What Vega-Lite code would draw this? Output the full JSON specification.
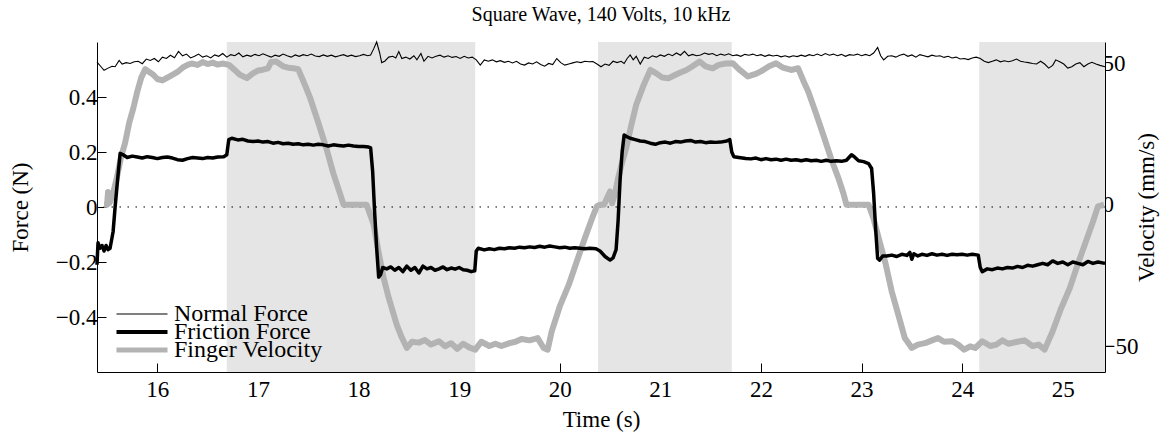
{
  "$schema": "https://vega.github.io/schema/vega-lite/v6.json",
  "width": 1008,
  "height": 330,
  "autosize": {"type": "none"},
  "padding": {"left": 97, "top": 42, "right": 59, "bottom": 67},
  "background": "white",
  "title": {"text": "Square Wave, 140 Volts, 10 kHz", "font": "Liberation Serif", "fontSize": 20, "fontWeight": "normal", "color": "black", "offset": 15, "anchor": "middle"},
  "config": {
    "view": {"stroke": null},
    "font": "Liberation Serif",
    "axis": {
      "labelFont": "Liberation Serif", "titleFont": "Liberation Serif",
      "labelFontSize": 23, "titleFontSize": 23, "titleFontWeight": "normal",
      "labelColor": "black", "titleColor": "black",
      "domainColor": "black", "tickColor": "black", "domainWidth": 1, "tickWidth": 1,
      "grid": false, "tickSize": -9, "labelPadding": 9
    },
    "legend": {"rowPadding": -6, "gridAlign": "none"}
  },
  "datasets": {
    "bands": [
      {"t": 16.69, "t2": 19.16},
      {"t": 20.38, "t2": 21.71},
      {"t": 24.17, "t2": 25.42}
    ],
    "friction": [
      {"t":15.40,"f":-0.21},{"t":15.41,"f":-0.13},{"t":15.43,"f":-0.15},{"t":15.45,"f":-0.14},{"t":15.47,"f":-0.16},{"t":15.49,"f":-0.14},{"t":15.51,"f":-0.155},{"t":15.53,"f":-0.15},{"t":15.56,"f":-0.09},{"t":15.58,"f":0.0},{"t":15.61,"f":0.12},{"t":15.63,"f":0.195},
      {"t":15.66,"f":0.19},{"t":15.70,"f":0.18},{"t":15.75,"f":0.185},{"t":15.80,"f":0.182},{"t":15.85,"f":0.178},{"t":15.90,"f":0.183},{"t":15.95,"f":0.18},{"t":16.00,"f":0.176},{"t":16.05,"f":0.18},{"t":16.10,"f":0.182},{"t":16.15,"f":0.178},{"t":16.20,"f":0.172},{"t":16.25,"f":0.17},{"t":16.30,"f":0.176},{"t":16.35,"f":0.18},{"t":16.40,"f":0.178},{"t":16.45,"f":0.176},{"t":16.50,"f":0.18},{"t":16.55,"f":0.178},{"t":16.60,"f":0.182},{"t":16.66,"f":0.183},{"t":16.69,"f":0.19},
      {"t":16.71,"f":0.245},{"t":16.74,"f":0.25},{"t":16.80,"f":0.244},{"t":16.85,"f":0.246},{"t":16.90,"f":0.24},{"t":16.95,"f":0.238},{"t":17.00,"f":0.24},{"t":17.05,"f":0.236},{"t":17.10,"f":0.238},{"t":17.15,"f":0.232},{"t":17.20,"f":0.235},{"t":17.25,"f":0.23},{"t":17.30,"f":0.232},{"t":17.35,"f":0.228},{"t":17.40,"f":0.23},{"t":17.45,"f":0.226},{"t":17.50,"f":0.228},{"t":17.55,"f":0.225},{"t":17.60,"f":0.228},{"t":17.65,"f":0.226},{"t":17.70,"f":0.222},{"t":17.75,"f":0.226},{"t":17.80,"f":0.224},{"t":17.85,"f":0.222},{"t":17.90,"f":0.225},{"t":17.95,"f":0.222},{"t":18.00,"f":0.22},{"t":18.05,"f":0.22},{"t":18.10,"f":0.218},{"t":18.12,"f":0.215},
      {"t":18.14,"f":0.13},{"t":18.16,"f":-0.02},{"t":18.18,"f":-0.15},{"t":18.20,"f":-0.255},{"t":18.22,"f":-0.245},{"t":18.24,"f":-0.22},{"t":18.28,"f":-0.225},{"t":18.32,"f":-0.218},{"t":18.36,"f":-0.23},{"t":18.40,"f":-0.22},{"t":18.44,"f":-0.235},{"t":18.48,"f":-0.215},{"t":18.52,"f":-0.23},{"t":18.56,"f":-0.22},{"t":18.60,"f":-0.24},{"t":18.64,"f":-0.215},{"t":18.68,"f":-0.225},{"t":18.72,"f":-0.22},{"t":18.76,"f":-0.23},{"t":18.80,"f":-0.225},{"t":18.84,"f":-0.218},{"t":18.88,"f":-0.228},{"t":18.92,"f":-0.222},{"t":18.96,"f":-0.226},{"t":19.00,"f":-0.22},{"t":19.04,"f":-0.228},{"t":19.08,"f":-0.23},{"t":19.12,"f":-0.235},{"t":19.155,"f":-0.232},
      {"t":19.17,"f":-0.16},{"t":19.19,"f":-0.15},{"t":19.25,"f":-0.156},{"t":19.30,"f":-0.152},{"t":19.35,"f":-0.155},{"t":19.40,"f":-0.15},{"t":19.45,"f":-0.152},{"t":19.50,"f":-0.148},{"t":19.55,"f":-0.15},{"t":19.60,"f":-0.146},{"t":19.65,"f":-0.148},{"t":19.70,"f":-0.145},{"t":19.75,"f":-0.147},{"t":19.80,"f":-0.143},{"t":19.85,"f":-0.146},{"t":19.90,"f":-0.142},{"t":19.95,"f":-0.145},{"t":20.00,"f":-0.148},{"t":20.05,"f":-0.146},{"t":20.10,"f":-0.15},{"t":20.15,"f":-0.148},{"t":20.20,"f":-0.15},{"t":20.25,"f":-0.152},{"t":20.30,"f":-0.15},{"t":20.36,"f":-0.152},{"t":20.40,"f":-0.16},{"t":20.45,"f":-0.18},{"t":20.50,"f":-0.193},{"t":20.53,"f":-0.185},{"t":20.56,"f":-0.155},
      {"t":20.58,"f":-0.05},{"t":20.60,"f":0.1},{"t":20.62,"f":0.2},{"t":20.64,"f":0.262},{"t":20.67,"f":0.255},{"t":20.70,"f":0.25},{"t":20.75,"f":0.245},{"t":20.80,"f":0.24},{"t":20.85,"f":0.238},{"t":20.90,"f":0.232},{"t":20.95,"f":0.228},{"t":21.00,"f":0.234},{"t":21.05,"f":0.236},{"t":21.10,"f":0.232},{"t":21.15,"f":0.238},{"t":21.20,"f":0.236},{"t":21.25,"f":0.24},{"t":21.30,"f":0.242},{"t":21.35,"f":0.236},{"t":21.40,"f":0.238},{"t":21.45,"f":0.234},{"t":21.50,"f":0.236},{"t":21.55,"f":0.235},{"t":21.60,"f":0.236},{"t":21.66,"f":0.24},{"t":21.69,"f":0.245},
      {"t":21.71,"f":0.2},{"t":21.73,"f":0.183},{"t":21.78,"f":0.18},{"t":21.85,"f":0.176},{"t":21.90,"f":0.175},{"t":21.95,"f":0.178},{"t":22.00,"f":0.172},{"t":22.05,"f":0.176},{"t":22.10,"f":0.172},{"t":22.15,"f":0.174},{"t":22.20,"f":0.17},{"t":22.25,"f":0.174},{"t":22.30,"f":0.17},{"t":22.35,"f":0.172},{"t":22.40,"f":0.168},{"t":22.45,"f":0.172},{"t":22.50,"f":0.168},{"t":22.55,"f":0.17},{"t":22.60,"f":0.166},{"t":22.65,"f":0.17},{"t":22.70,"f":0.166},{"t":22.75,"f":0.168},{"t":22.80,"f":0.166},{"t":22.85,"f":0.17},{"t":22.90,"f":0.19},{"t":22.93,"f":0.182},{"t":22.97,"f":0.168},{"t":23.02,"f":0.165},{"t":23.07,"f":0.158},{"t":23.10,"f":0.14},
      {"t":23.12,"f":0.05},{"t":23.14,"f":-0.08},{"t":23.16,"f":-0.187},{"t":23.18,"f":-0.193},{"t":23.21,"f":-0.178},{"t":23.25,"f":-0.178},{"t":23.30,"f":-0.175},{"t":23.35,"f":-0.18},{"t":23.40,"f":-0.172},{"t":23.45,"f":-0.176},{"t":23.48,"f":-0.165},{"t":23.50,"f":-0.19},{"t":23.52,"f":-0.17},{"t":23.56,"f":-0.178},{"t":23.60,"f":-0.172},{"t":23.65,"f":-0.176},{"t":23.70,"f":-0.17},{"t":23.75,"f":-0.175},{"t":23.80,"f":-0.172},{"t":23.85,"f":-0.176},{"t":23.90,"f":-0.172},{"t":23.95,"f":-0.174},{"t":24.00,"f":-0.172},{"t":24.05,"f":-0.175},{"t":24.10,"f":-0.172},{"t":24.16,"f":-0.175},
      {"t":24.18,"f":-0.22},{"t":24.20,"f":-0.235},{"t":24.25,"f":-0.225},{"t":24.30,"f":-0.228},{"t":24.35,"f":-0.222},{"t":24.40,"f":-0.225},{"t":24.45,"f":-0.22},{"t":24.50,"f":-0.222},{"t":24.55,"f":-0.216},{"t":24.60,"f":-0.22},{"t":24.65,"f":-0.212},{"t":24.70,"f":-0.215},{"t":24.75,"f":-0.21},{"t":24.80,"f":-0.205},{"t":24.85,"f":-0.21},{"t":24.90,"f":-0.196},{"t":24.95,"f":-0.205},{"t":25.00,"f":-0.2},{"t":25.05,"f":-0.21},{"t":25.10,"f":-0.2},{"t":25.15,"f":-0.205},{"t":25.20,"f":-0.21},{"t":25.25,"f":-0.198},{"t":25.30,"f":-0.205},{"t":25.35,"f":-0.2},{"t":25.42,"f":-0.205}
    ],
    "velocity": [
      {"t":15.47,"v":0},{"t":15.50,"v":0},{"t":15.51,"v":4.5},{"t":15.525,"v":0.6},{"t":15.56,"v":4},{"t":15.60,"v":10},{"t":15.64,"v":17},{"t":15.68,"v":22},{"t":15.72,"v":29},{"t":15.76,"v":34},{"t":15.80,"v":40},{"t":15.84,"v":45},{"t":15.88,"v":48},{"t":15.92,"v":47},{"t":15.96,"v":46},{"t":16.00,"v":44.5},{"t":16.05,"v":44},{"t":16.10,"v":45},{"t":16.15,"v":46},{"t":16.20,"v":47},{"t":16.25,"v":48.5},{"t":16.30,"v":49.5},{"t":16.34,"v":50},{"t":16.40,"v":49.5},{"t":16.45,"v":50.5},{"t":16.50,"v":49.8},{"t":16.55,"v":50.3},{"t":16.60,"v":49.6},{"t":16.65,"v":50},{"t":16.71,"v":49.5},{"t":16.76,"v":48},{"t":16.82,"v":46},{"t":16.89,"v":44.8},{"t":16.95,"v":46.5},{"t":17.00,"v":47.5},{"t":17.04,"v":47.7},{"t":17.10,"v":48.3},{"t":17.13,"v":50.5},{"t":17.18,"v":50.7},{"t":17.25,"v":49},{"t":17.30,"v":48.5},{"t":17.35,"v":48.3},{"t":17.40,"v":48},
      {"t":17.46,"v":43},{"t":17.52,"v":37.7},{"t":17.60,"v":29},{"t":17.68,"v":20},{"t":17.75,"v":11},{"t":17.82,"v":3.5},{"t":17.85,"v":0},{"t":18.08,"v":0},{"t":18.12,"v":-4},{"t":18.15,"v":-7},{"t":18.20,"v":-17},{"t":18.25,"v":-26},{"t":18.30,"v":-33},{"t":18.38,"v":-42.5},{"t":18.43,"v":-47},{"t":18.48,"v":-50.7},{"t":18.53,"v":-48.5},{"t":18.60,"v":-48.8},{"t":18.66,"v":-47.9},{"t":18.72,"v":-49.5},{"t":18.80,"v":-48.3},{"t":18.86,"v":-50.1},{"t":18.92,"v":-49},{"t":18.98,"v":-51},{"t":19.04,"v":-49.2},{"t":19.10,"v":-50.5},{"t":19.16,"v":-51.3},{"t":19.22,"v":-48.5},{"t":19.30,"v":-50},{"t":19.36,"v":-49.2},{"t":19.42,"v":-50},{"t":19.50,"v":-49},{"t":19.56,"v":-48.5},{"t":19.62,"v":-47.5},{"t":19.70,"v":-48},{"t":19.78,"v":-47.2},{"t":19.84,"v":-50.7},{"t":19.88,"v":-51.3},
      {"t":19.92,"v":-44.8},{"t":20.00,"v":-36},{"t":20.09,"v":-28.3},{"t":20.17,"v":-20},{"t":20.25,"v":-11.8},{"t":20.33,"v":-4},{"t":20.37,"v":-0.5},{"t":20.40,"v":0},{"t":20.44,"v":0},{"t":20.50,"v":4.7},{"t":20.52,"v":0.5},{"t":20.55,"v":4},{"t":20.58,"v":9.4},{"t":20.62,"v":15},{"t":20.66,"v":20},{"t":20.71,"v":28},{"t":20.76,"v":35.4},{"t":20.83,"v":42},{"t":20.90,"v":47.7},{"t":20.96,"v":46.5},{"t":21.02,"v":45},{"t":21.08,"v":44.8},{"t":21.14,"v":45.8},{"t":21.20,"v":46.8},{"t":21.26,"v":47.7},{"t":21.32,"v":49},{"t":21.39,"v":50.7},{"t":21.45,"v":49},{"t":21.52,"v":48.3},{"t":21.58,"v":49.5},{"t":21.65,"v":50},{"t":21.72,"v":50.1},{"t":21.78,"v":48},{"t":21.87,"v":45.4},{"t":21.94,"v":46.2},{"t":22.00,"v":47.2},{"t":22.08,"v":49},{"t":22.15,"v":50.1},{"t":22.22,"v":48.5},{"t":22.30,"v":47.7},{"t":22.37,"v":48.3},
      {"t":22.42,"v":44},{"t":22.47,"v":40.1},{"t":22.55,"v":32},{"t":22.63,"v":23.6},{"t":22.70,"v":16},{"t":22.77,"v":9.4},{"t":22.82,"v":4},{"t":22.85,"v":0},{"t":23.07,"v":0},{"t":23.12,"v":-5},{"t":23.17,"v":-11.8},{"t":23.24,"v":-21},{"t":23.30,"v":-30.7},{"t":23.37,"v":-39.5},{"t":23.43,"v":-47.2},{"t":23.50,"v":-50.7},{"t":23.56,"v":-49.5},{"t":23.63,"v":-49},{"t":23.70,"v":-48},{"t":23.76,"v":-47.2},{"t":23.82,"v":-48.5},{"t":23.90,"v":-48.3},{"t":23.96,"v":-49.5},{"t":24.02,"v":-51.3},{"t":24.08,"v":-50.1},{"t":24.13,"v":-50.7},{"t":24.20,"v":-48.3},{"t":24.28,"v":-50},{"t":24.34,"v":-49.5},{"t":24.40,"v":-48},{"t":24.46,"v":-49.2},{"t":24.55,"v":-48.5},{"t":24.62,"v":-48},{"t":24.70,"v":-50},{"t":24.76,"v":-49.5},{"t":24.82,"v":-51.3},{"t":24.86,"v":-48},{"t":24.90,"v":-44.8},{"t":24.98,"v":-37},{"t":25.07,"v":-29.5},{"t":25.15,"v":-21},{"t":25.23,"v":-13},{"t":25.30,"v":-6},{"t":25.35,"v":-0.6},{"t":25.41,"v":0}
    ],
    "normal": [
      {"t":15.40,"f":0.527},{"t":15.44,"f":0.51},{"t":15.47,"f":0.497},{"t":15.51,"f":0.505},{"t":15.55,"f":0.512},{"t":15.58,"f":0.51},{"t":15.62,"f":0.533},{"t":15.65,"f":0.52},{"t":15.69,"f":0.525},{"t":15.73,"f":0.522},{"t":15.77,"f":0.528},{"t":15.81,"f":0.53},{"t":15.85,"f":0.521},{"t":15.89,"f":0.538},{"t":15.93,"f":0.533},{"t":15.97,"f":0.54},{"t":16.01,"f":0.528},{"t":16.05,"f":0.545},{"t":16.09,"f":0.54},{"t":16.13,"f":0.552},{"t":16.17,"f":0.543},{"t":16.21,"f":0.566},{"t":16.25,"f":0.55},{"t":16.29,"f":0.556},{"t":16.33,"f":0.542},{"t":16.37,"f":0.548},{"t":16.41,"f":0.556},{"t":16.45,"f":0.545},{"t":16.49,"f":0.55},{"t":16.53,"f":0.542},{"t":16.57,"f":0.553},{"t":16.61,"f":0.548},{"t":16.65,"f":0.558},{"t":16.69,"f":0.545},{"t":16.73,"f":0.554},{"t":16.77,"f":0.55},{"t":16.81,"f":0.56},{"t":16.85,"f":0.546},{"t":16.89,"f":0.552},{"t":16.93,"f":0.548},{"t":16.97,"f":0.555},
      {"t":17.01,"f":0.55},{"t":17.05,"f":0.557},{"t":17.09,"f":0.551},{"t":17.13,"f":0.545},{"t":17.17,"f":0.552},{"t":17.21,"f":0.548},{"t":17.25,"f":0.556},{"t":17.29,"f":0.55},{"t":17.33,"f":0.545},{"t":17.37,"f":0.553},{"t":17.41,"f":0.548},{"t":17.45,"f":0.554},{"t":17.49,"f":0.55},{"t":17.53,"f":0.556},{"t":17.57,"f":0.549},{"t":17.61,"f":0.547},{"t":17.65,"f":0.553},{"t":17.69,"f":0.548},{"t":17.73,"f":0.552},{"t":17.77,"f":0.546},{"t":17.81,"f":0.55},{"t":17.85,"f":0.554},{"t":17.89,"f":0.548},{"t":17.93,"f":0.552},{"t":17.97,"f":0.547},{"t":18.01,"f":0.55},{"t":18.05,"f":0.555},{"t":18.09,"f":0.55},{"t":18.12,"f":0.553},{"t":18.15,"f":0.575},{"t":18.18,"f":0.60},{"t":18.21,"f":0.56},{"t":18.23,"f":0.525},{"t":18.26,"f":0.53},{"t":18.30,"f":0.545},{"t":18.34,"f":0.548},{"t":18.37,"f":0.542},{"t":18.40,"f":0.565},{"t":18.43,"f":0.54},{"t":18.47,"f":0.545},{"t":18.51,"f":0.538},{"t":18.55,"f":0.55},{"t":18.58,"f":0.535},{"t":18.62,"f":0.558},{"t":18.65,"f":0.53},{"t":18.69,"f":0.548},{"t":18.73,"f":0.542},{"t":18.77,"f":0.548},{"t":18.81,"f":0.552},{"t":18.85,"f":0.545},{"t":18.89,"f":0.55},{"t":18.93,"f":0.544},{"t":18.97,"f":0.547},
      {"t":19.01,"f":0.54},{"t":19.05,"f":0.548},{"t":19.09,"f":0.542},{"t":19.13,"f":0.545},{"t":19.17,"f":0.535},{"t":19.21,"f":0.516},{"t":19.25,"f":0.535},{"t":19.29,"f":0.53},{"t":19.33,"f":0.535},{"t":19.37,"f":0.528},{"t":19.41,"f":0.532},{"t":19.45,"f":0.526},{"t":19.49,"f":0.53},{"t":19.53,"f":0.524},{"t":19.57,"f":0.53},{"t":19.61,"f":0.52},{"t":19.65,"f":0.516},{"t":19.69,"f":0.524},{"t":19.73,"f":0.52},{"t":19.77,"f":0.528},{"t":19.81,"f":0.518},{"t":19.85,"f":0.512},{"t":19.89,"f":0.522},{"t":19.93,"f":0.518},{"t":19.97,"f":0.54},{"t":20.01,"f":0.525},{"t":20.05,"f":0.516},{"t":20.09,"f":0.52},{"t":20.13,"f":0.524},{"t":20.17,"f":0.528},{"t":20.21,"f":0.525},{"t":20.25,"f":0.53},{"t":20.29,"f":0.528},{"t":20.33,"f":0.529},{"t":20.37,"f":0.52},{"t":20.41,"f":0.51},{"t":20.45,"f":0.52},{"t":20.49,"f":0.515},{"t":20.53,"f":0.53},{"t":20.57,"f":0.525},{"t":20.61,"f":0.53},{"t":20.64,"f":0.522},{"t":20.67,"f":0.54},{"t":20.70,"f":0.553},{"t":20.73,"f":0.535},{"t":20.76,"f":0.548},{"t":20.80,"f":0.52},{"t":20.84,"f":0.545},{"t":20.88,"f":0.54},{"t":20.92,"f":0.55},{"t":20.96,"f":0.545},
      {"t":21.00,"f":0.553},{"t":21.04,"f":0.548},{"t":21.08,"f":0.556},{"t":21.12,"f":0.55},{"t":21.16,"f":0.56},{"t":21.20,"f":0.552},{"t":21.24,"f":0.566},{"t":21.28,"f":0.55},{"t":21.32,"f":0.555},{"t":21.36,"f":0.55},{"t":21.40,"f":0.553},{"t":21.44,"f":0.56},{"t":21.48,"f":0.555},{"t":21.52,"f":0.558},{"t":21.56,"f":0.55},{"t":21.60,"f":0.556},{"t":21.64,"f":0.552},{"t":21.68,"f":0.557},{"t":21.72,"f":0.55},{"t":21.76,"f":0.553},{"t":21.80,"f":0.548},{"t":21.84,"f":0.555},{"t":21.88,"f":0.552},{"t":21.92,"f":0.556},{"t":21.96,"f":0.55},{"t":22.00,"f":0.554},{"t":22.04,"f":0.548},{"t":22.08,"f":0.553},{"t":22.12,"f":0.549},{"t":22.16,"f":0.552},{"t":22.20,"f":0.546},{"t":22.24,"f":0.55},{"t":22.28,"f":0.545},{"t":22.32,"f":0.55},{"t":22.36,"f":0.547},{"t":22.40,"f":0.552},{"t":22.44,"f":0.548},{"t":22.48,"f":0.554},{"t":22.52,"f":0.55},{"t":22.56,"f":0.556},{"t":22.60,"f":0.55},{"t":22.64,"f":0.558},{"t":22.68,"f":0.552},{"t":22.72,"f":0.556},{"t":22.76,"f":0.55},{"t":22.80,"f":0.555},{"t":22.84,"f":0.548},{"t":22.88,"f":0.554},{"t":22.92,"f":0.552},{"t":22.96,"f":0.556},
      {"t":23.00,"f":0.55},{"t":23.04,"f":0.555},{"t":23.08,"f":0.55},{"t":23.12,"f":0.56},{"t":23.16,"f":0.58},{"t":23.19,"f":0.55},{"t":23.22,"f":0.535},{"t":23.26,"f":0.548},{"t":23.30,"f":0.55},{"t":23.34,"f":0.545},{"t":23.38,"f":0.552},{"t":23.42,"f":0.556},{"t":23.46,"f":0.548},{"t":23.50,"f":0.553},{"t":23.54,"f":0.545},{"t":23.58,"f":0.554},{"t":23.62,"f":0.55},{"t":23.66,"f":0.546},{"t":23.70,"f":0.552},{"t":23.74,"f":0.548},{"t":23.78,"f":0.55},{"t":23.82,"f":0.544},{"t":23.86,"f":0.548},{"t":23.90,"f":0.542},{"t":23.94,"f":0.545},{"t":23.98,"f":0.538},{"t":24.02,"f":0.54},{"t":24.06,"f":0.536},{"t":24.10,"f":0.542},{"t":24.14,"f":0.545},{"t":24.18,"f":0.54},{"t":24.22,"f":0.53},{"t":24.26,"f":0.525},{"t":24.30,"f":0.53},{"t":24.34,"f":0.535},{"t":24.38,"f":0.528},{"t":24.42,"f":0.532},{"t":24.46,"f":0.528},{"t":24.50,"f":0.532},{"t":24.54,"f":0.538},{"t":24.58,"f":0.53},{"t":24.62,"f":0.527},{"t":24.66,"f":0.525},{"t":24.70,"f":0.522},{"t":24.74,"f":0.52},{"t":24.78,"f":0.53},{"t":24.82,"f":0.52},{"t":24.86,"f":0.505},{"t":24.90,"f":0.515},{"t":24.93,"f":0.535},{"t":24.97,"f":0.528},
      {"t":25.01,"f":0.52},{"t":25.05,"f":0.505},{"t":25.09,"f":0.51},{"t":25.13,"f":0.52},{"t":25.17,"f":0.525},{"t":25.21,"f":0.51},{"t":25.25,"f":0.52},{"t":25.29,"f":0.526},{"t":25.33,"f":0.52},{"t":25.37,"f":0.515},{"t":25.42,"f":0.51}
    ]
  },
  "layer": [
    {
      "data": {"name": "bands"},
      "mark": {"type": "rect", "color": "#e5e5e5"},
      "encoding": {
        "x": {
          "field": "t", "type": "quantitative",
          "scale": {"domain": [15.4, 25.42], "nice": false, "zero": false},
          "axis": {"values": [16, 17, 18, 19, 20, 21, 22, 23, 24, 25], "format": "d", "title": "Time (s)", "labelPadding": 15, "titleBaseline": "middle", "titleY": 47}
        },
        "x2": {"field": "t2"}
      }
    },
    {
      "data": {"values": [{}]},
      "mark": {"type": "rule", "color": "black", "strokeWidth": 1.2, "strokeDash": [1.5, 6.5]},
      "encoding": {
        "y": {"datum": 0, "type": "quantitative", "scale": {"domain": [-0.6, 0.6], "nice": false, "zero": false}, "axis": null}
      }
    },
    {
      "data": {"name": "velocity"},
      "mark": {"type": "line", "strokeWidth": 6, "strokeJoin": "round"},
      "encoding": {
        "x": {"field": "t", "type": "quantitative", "scale": {"domain": [15.4, 25.42], "nice": false, "zero": false}},
        "y": {
          "field": "v", "type": "quantitative",
          "scale": {"domain": [-59.2, 57.6], "nice": false, "zero": false},
          "axis": {"orient": "right", "values": [-50, 0, 50], "title": "Velocity (mm/s)", "labelExpr": "replace(datum.label, '-', '−')", "labelPadding": 6, "titleAngle": -90, "titleBaseline": "middle", "titleAlign": "center", "titleX": 41, "titleY": 165}
        },
        "color": {
          "datum": "Finger Velocity", "type": "nominal",
          "scale": {"domain": ["Normal Force", "Friction Force", "Finger Velocity"], "range": ["#000000", "#000000", "#b3b3b3"]},
          "legend": {"orient": "bottom-left", "offset": 10, "title": null, "symbolType": "stroke", "symbolSize": 2601, "symbolStrokeWidth": 3, "labelFont": "Liberation Serif", "labelFontSize": 24, "labelLimit": 400, "labelColor": "black", "padding": 0, "encode": {"symbols": {"update": {"x": {"value": 35}, "strokeWidth": {"signal": "datum.value === 'Normal Force' ? 1.2 : datum.value === 'Friction Force' ? 4 : 5"}}}, "labels": {"update": {"x": {"value": 67}}}}}
        }
      }
    },
    {
      "layer": [
        {
          "data": {"name": "normal"},
          "mark": {"type": "line", "strokeWidth": 1.1},
          "encoding": {
            "x": {"field": "t", "type": "quantitative", "scale": {"domain": [15.4, 25.42], "nice": false, "zero": false}},
            "y": {
              "field": "f", "type": "quantitative",
              "scale": {"domain": [-0.6, 0.6], "nice": false, "zero": false},
              "axis": {"orient": "left", "values": [-0.4, -0.2, 0, 0.2, 0.4], "title": "Force (N)", "labelExpr": "datum.value == 0 ? '0' : replace(format(datum.value, '.1f'), '-', '−')", "titleAngle": -90, "titleBaseline": "middle", "titleAlign": "center", "titleX": -77, "titleY": 165}
            },
            "color": {
              "datum": "Normal Force", "type": "nominal",
              "scale": {"domain": ["Normal Force", "Friction Force", "Finger Velocity"], "range": ["#000000", "#000000", "#b3b3b3"]},
              "legend": {"orient": "bottom-left", "offset": 10, "title": null, "symbolType": "stroke", "symbolSize": 2601, "symbolStrokeWidth": 3, "labelFont": "Liberation Serif", "labelFontSize": 24, "labelLimit": 400, "labelColor": "black", "padding": 0, "encode": {"symbols": {"update": {"x": {"value": 35}, "strokeWidth": {"signal": "datum.value === 'Normal Force' ? 1.2 : datum.value === 'Friction Force' ? 4 : 5"}}}, "labels": {"update": {"x": {"value": 67}}}}}
            }
          }
        },
        {
          "data": {"name": "friction"},
          "mark": {"type": "line", "strokeWidth": 3.5, "strokeJoin": "round"},
          "encoding": {
            "x": {"field": "t", "type": "quantitative", "scale": {"domain": [15.4, 25.42], "nice": false, "zero": false}},
            "y": {"field": "f", "type": "quantitative", "scale": {"domain": [-0.6, 0.6], "nice": false, "zero": false}},
            "color": {
              "datum": "Friction Force", "type": "nominal",
              "scale": {"domain": ["Normal Force", "Friction Force", "Finger Velocity"], "range": ["#000000", "#000000", "#b3b3b3"]},
              "legend": {"orient": "bottom-left", "offset": 10, "title": null, "symbolType": "stroke", "symbolSize": 2601, "symbolStrokeWidth": 3, "labelFont": "Liberation Serif", "labelFontSize": 24, "labelLimit": 400, "labelColor": "black", "padding": 0, "encode": {"symbols": {"update": {"x": {"value": 35}, "strokeWidth": {"signal": "datum.value === 'Normal Force' ? 1.2 : datum.value === 'Friction Force' ? 4 : 5"}}}, "labels": {"update": {"x": {"value": 67}}}}}
            }
          }
        }
      ]
    }
  ],
  "resolve": {"scale": {"y": "independent"}}
}
